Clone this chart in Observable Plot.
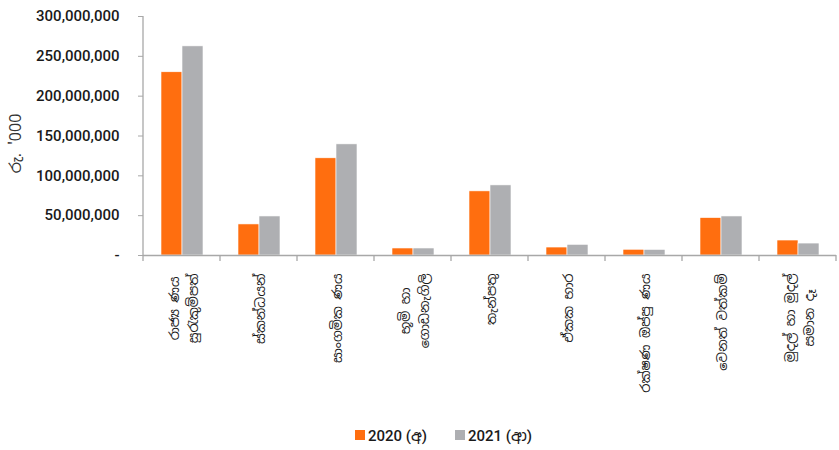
<!DOCTYPE html>
<html>
<head>
<meta charset="utf-8">
<script src="https://cdn.jsdelivr.net/npm/d3@7"></script>
<script src="https://cdn.jsdelivr.net/npm/@observablehq/plot@0.6"></script>
<style>
  html, body { margin: 0; padding: 0; background: #fff; }
  body { width: 839px; height: 450px; overflow: hidden; font-family: Roboto, "Noto Sans", sans-serif; }
  #legend { display: flex; justify-content: center; align-items: center; height: 30px; padding-left: 48px;
            font-family: Roboto, "Noto Sans Sinhala", "Noto Sans", sans-serif; font-size: 15px; font-weight: 500; color: #1a1a1a; }
  #legend .item { display: flex; align-items: center; margin: 0 14px; }
  #legend .sw { width: 10px; height: 10px; margin-right: 3px; }
</style>
</head>
<body>
<div id="chart"></div>
<div id="legend"></div>
<script>
const categories = [
  "රාජ්‍ය ණය\nසුරැකුම්පත්",
  "ස්කන්ධයන්",
  "සාංගමික ණය",
  "භූමි හා\nගොඩනැගිලි",
  "තැන්පතු",
  "ඒකක භාර",
  "රක්ෂණ ඔප්පු ණය",
  "වෙනත් වත්කම්",
  "මුදල් හා මුදල්\nසමාන දෑ"
];
const series = ["2020 (අ)", "2021 (ආ)"];
const values2020 = [230000000, 39000000, 122000000, 8800000, 80500000, 10000000, 7200000, 47000000, 18800000];
const values2021 = [262500000, 49000000, 139500000, 8800000, 88000000, 13400000, 7000000, 49000000, 15000000];
const yTicks = [0, 50000000, 100000000, 150000000, 200000000, 250000000, 300000000];
const yLabel = "රු. '000";
const colors = ["#FF6E0F", "#AEAFB2"];

const rows = categories.flatMap((c, i) => [
  {cat: c, s: series[0], v: values2020[i]},
  {cat: c, s: series[1], v: values2021[i]}
]);

const fmt = d3.format(",");
const chart = Plot.plot({
  width: 839,
  height: 420,
  marginLeft: 140,
  marginRight: 0,
  marginTop: 16,
  marginBottom: 165,
  style: {fontFamily: "Roboto, 'Noto Sans', sans-serif", fontSize: "15px", color: "#1a1a1a", background: "#fff"},
  fx: {domain: categories, padding: 0, axis: null, label: null},
  x: {domain: series, paddingInner: 0, paddingOuter: 0.77, axis: null},
  y: {domain: [0, 300000000], axis: null},
  color: {domain: series, range: colors},
  marks: [
    Plot.barY(rows, {fx: "cat", x: "s", y: "v", fill: "s", stroke: "#fff", strokeWidth: 0.6}),
    Plot.ruleY([0], {stroke: "#a8a8a8", strokeWidth: 1.3}),
    Plot.axisY({
      ticks: yTicks,
      tickSize: 5,
      tickPadding: 19,
      stroke: "#a8a8a8",
      tickFormat: d => d === 0 ? "-" : fmt(d),
      fontWeight: 500,
      fill: "#1a1a1a",
      label: null
    }),
    Plot.text(categories, {
      fx: d => d,
      text: d => d,
      frameAnchor: "bottom",
      rotate: -90,
      textAnchor: "end",
      lineAnchor: "middle",
      lineHeight: 1.5,
      dy: 18,
      fontSize: 13,
      fontFamily: "'Noto Sans Sinhala', 'Noto Sans', sans-serif",
      fill: "#1a1a1a"
    })
  ]
});

document.getElementById("chart").appendChild(chart);

// axis lines and category boundary ticks, positioned from Plot's own scales
const fxs = chart.scale("fx");
const ys = chart.scale("y");
const svg = d3.select(chart);
const y0 = ys.apply(0), yTop = ys.apply(300000000);
const x0 = fxs.apply(categories[0]);
svg.append("line").attr("x1", x0).attr("x2", x0).attr("y1", yTop).attr("y2", y0)
  .attr("stroke", "#a8a8a8").attr("stroke-width", 1.3);
const bounds = categories.map(c => fxs.apply(c)).concat([fxs.apply(categories[categories.length - 1]) + fxs.bandwidth]);
bounds.forEach(b => {
  svg.append("line").attr("x1", b).attr("x2", b).attr("y1", y0).attr("y2", y0 + 6)
    .attr("stroke", "#a8a8a8").attr("stroke-width", 1.3);
});
// center the lines of multi-line category labels within their block
svg.selectAll("text").each(function() {
  const tspans = Array.from(this.querySelectorAll("tspan"));
  if (tspans.length < 2) return;
  const lens = tspans.map(t => t.getComputedTextLength());
  const maxLen = Math.max(...lens);
  tspans.forEach((t, i) => t.setAttribute("x", -(maxLen - lens[i]) / 2));
});
// y axis title
svg.append("text")
  .attr("transform", `translate(21,${(y0 + yTop) / 2 + 8}) rotate(-90)`)
  .attr("text-anchor", "middle")
  .attr("font-family", "'Noto Sans Sinhala', 'Noto Sans', sans-serif")
  .attr("font-size", 16)
  .attr("fill", "#333")
  .text(yLabel);

const legend = d3.select("#legend");
series.forEach((s, i) => {
  const it = legend.append("div").attr("class", "item");
  it.append("div").attr("class", "sw").style("background", colors[i]);
  it.append("span").text(s);
});
</script>
</body>
</html>
